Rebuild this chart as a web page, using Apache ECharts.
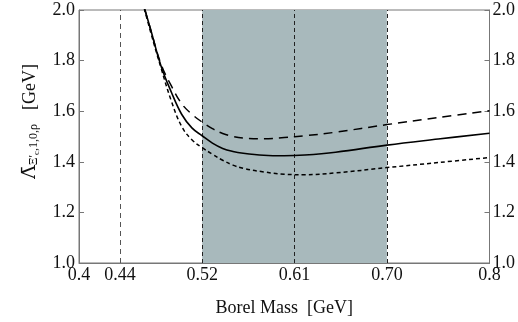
<!DOCTYPE html>
<html>
<head>
<meta charset="utf-8">
<script src="https://cdn.jsdelivr.net/npm/echarts@6/dist/echarts.min.js"></script>
<style>
  html, body { margin: 0; padding: 0; background: #fff; }
  #chart { width: 518px; height: 322px; }
</style>
</head>
<body>
<div id="chart"></div>
<script>
// Borel mass values (GeV)
var borel = [0.46, 0.47, 0.48, 0.49, 0.50, 0.51, 0.52, 0.53, 0.54, 0.55, 0.56, 0.58, 0.60, 0.62, 0.65, 0.70, 0.75, 0.80];
// central curve (solid)
var central = [2.06, 1.92, 1.778, 1.675, 1.588, 1.534, 1.503, 1.474, 1.453, 1.441, 1.434, 1.426, 1.424, 1.427, 1.438, 1.466, 1.49, 1.513];
// upper curve (long dash)
var upper = [2.06, 1.92, 1.785, 1.70, 1.63, 1.588, 1.557, 1.531, 1.512, 1.50, 1.494, 1.491, 1.496, 1.503, 1.517, 1.547, 1.575, 1.602];
// lower curve (short dash)
var lower = [2.06, 1.91, 1.77, 1.64, 1.54, 1.487, 1.456, 1.43, 1.406, 1.387, 1.374, 1.36, 1.351, 1.349, 1.356, 1.377, 1.397, 1.417];

var xTickValues = [0.4, 0.44, 0.52, 0.61, 0.70, 0.8];
var xTickLabels = ['0.4', '0.44', '0.52', '0.61', '0.70', '0.8'];
var bandRange = [0.52, 0.70];
var markX = [0.44, 0.52, 0.61, 0.70];

function pairs(ys) {
  return borel.map(function (x, i) { return [x, ys[i]]; });
}

var font = 'Liberation Serif';
var chart = echarts.init(document.getElementById('chart'));

var lineBase = {
  type: 'line',
  smooth: 0.4,
  showSymbol: false,
  clip: true,
  z: 5
};

chart.setOption({
  animation: false,
  grid: {
    left: 79, right: 28, top: 10, bottom: 58,
    show: true, borderColor: '#777', borderWidth: 1
  },
  xAxis: {
    type: 'value',
    min: 0.4, max: 0.8,
    name: 'Borel Mass  [GeV]',
    nameLocation: 'middle',
    nameGap: 36,
    nameTextStyle: { fontFamily: font, fontSize: 18, color: '#111' },
    axisLine: { lineStyle: { color: '#777' } },
    axisTick: { inside: true, length: 4, customValues: xTickValues, lineStyle: { color: '#777' } },
    splitLine: { show: false },
    axisLabel: {
      customValues: xTickValues,
      margin: 3,
      fontFamily: font, fontSize: 18, color: '#111',
      formatter: function (v) {
        var i = xTickValues.findIndex(function (t) { return Math.abs(t - v) < 1e-6; });
        return i >= 0 ? xTickLabels[i] : '';
      }
    }
  },
  yAxis: [
    {
      type: 'value',
      min: 1.0, max: 2.0, interval: 0.2,
      position: 'left',
      name: '{L|Λ̄}{s|Ξ′}{c|c}{s|,1,0,ρ}{sp|}{a|[GeV]}',
      nameLocation: 'middle',
      nameRotate: 90,
      nameGap: 36,
      nameTextStyle: {
        fontFamily: font, color: '#111',
        padding: [0, 0, 0, 30],
        rich: {
          L: { fontFamily: 'DejaVu Serif', fontSize: 19, color: '#111' },
          a: { fontFamily: font, fontSize: 18, color: '#111' },
          s: { fontFamily: font, fontSize: 12, color: '#111', padding: [8, 0, 0, 0] },
          c: { fontFamily: font, fontSize: 9, color: '#111', padding: [14, 0, 0, 0] },
          sp: { width: 14 }
        }
      },
      axisLine: { show: true, lineStyle: { color: '#777' } },
      axisTick: { inside: true, length: 5, lineStyle: { color: '#777' } },
      splitLine: { show: false },
      axisLabel: {
        margin: 4, fontFamily: font, fontSize: 18, color: '#111',
        formatter: function (v) { return v.toFixed(1); }
      }
    },
    {
      type: 'value',
      min: 1.0, max: 2.0, interval: 0.2,
      position: 'right',
      axisLine: { show: true, lineStyle: { color: '#777' } },
      axisTick: { inside: true, length: 5, lineStyle: { color: '#777' } },
      splitLine: { show: false },
      axisLabel: {
        margin: 3, fontFamily: font, fontSize: 18, color: '#111',
        formatter: function (v) { return v.toFixed(1); }
      }
    }
  ],
  series: [
    Object.assign({}, lineBase, {
      name: 'central',
      data: pairs(central),
      lineStyle: { color: '#000', width: 1.6, type: 'solid' },
      markArea: {
        silent: true,
        itemStyle: { color: '#a8b9bc' },
        data: [[{ xAxis: bandRange[0] }, { xAxis: bandRange[1] }]]
      },
      markLine: {
        silent: true,
        symbol: 'none',
        label: { show: false },
        lineStyle: { color: '#222', width: 1, type: [4, 3] },
        data: markX.map(function (x, i) {
          return i === 0
            ? { xAxis: x, lineStyle: { color: '#555', type: [5, 4] } }
            : { xAxis: x };
        })
      }
    }),
    Object.assign({}, lineBase, {
      name: 'upper',
      data: pairs(upper),
      lineStyle: { color: '#000', width: 1.5, type: [9, 6] }
    }),
    Object.assign({}, lineBase, {
      name: 'lower',
      data: pairs(lower),
      lineStyle: { color: '#000', width: 1.5, type: [4, 3] }
    })
  ]
});
</script>
</body>
</html>
